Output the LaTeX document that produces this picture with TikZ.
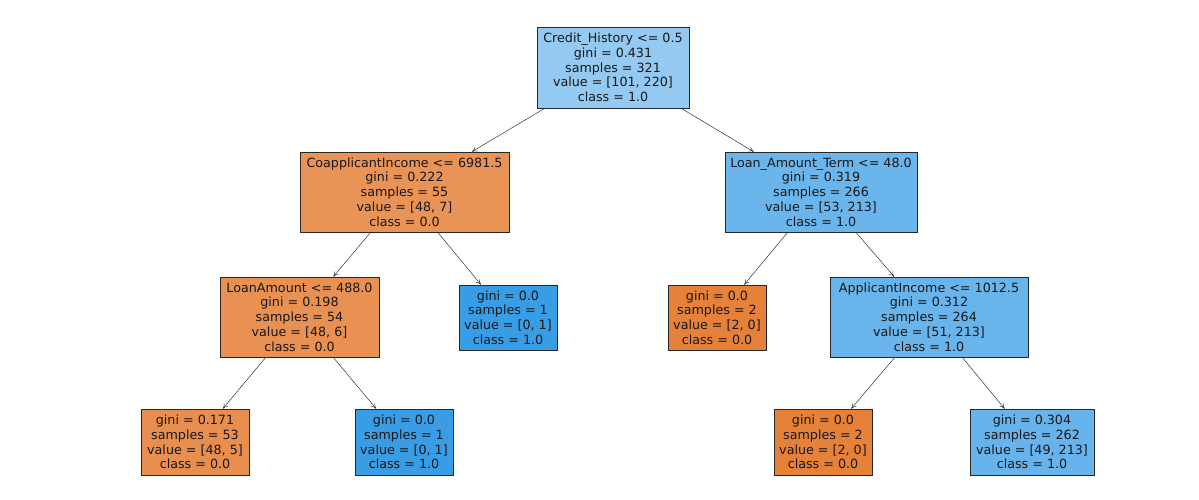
\documentclass[tikz,border=0pt]{standalone}
\usepackage{fontspec}
\setmainfont{DejaVu Sans}
\usetikzlibrary{arrows.meta}
\definecolor{rootc}{RGB}{148,202,241}
\definecolor{o1}{RGB}{233,147,86}
\definecolor{b1}{RGB}{106,181,235}
\definecolor{o2}{RGB}{232,145,82}
\definecolor{opure}{RGB}{229,129,57}
\definecolor{bpure}{RGB}{57,157,229}
\definecolor{b2}{RGB}{104,180,235}
\definecolor{o3}{RGB}{232,142,78}
\definecolor{b3}{RGB}{103,179,235}
\definecolor{edgec}{RGB}{40,40,40}
\tikzset{
  treenode/.style={draw=edgec, line width=0.7pt, inner sep=0pt, align=center,
    font=\fontsize{12.7pt}{14.75pt}\selectfont, text=black!90},
  split/.style={treenode, minimum height=80pt},
  leaf/.style={treenode, minimum height=66pt},
  edge/.style={draw=black!80, line width=0.5pt, -{To[length=5pt,width=5pt]}}
}
\begin{document}
\begin{tikzpicture}[x=1pt,y=-1pt]
\useasboundingbox[fill=white] (0,0) rectangle (1199,500);
\node[split, fill=rootc, minimum width=152pt, minimum height=81pt] (root) at (613,67.5)
  {Credit\_History <= 0.5\\gini = 0.431\\samples = 321\\value = [101, 220]\\class = 1.0};
\node[split, fill=o1, minimum width=209pt] (coap) at (404.5,192)
  {CoapplicantIncome <= 6981.5\\gini = 0.222\\samples = 55\\value = [48, 7]\\class = 0.0};
\node[split, fill=b1, minimum width=192pt] (lat) at (821,192)
  {Loan\_Amount\_Term <= 48.0\\gini = 0.319\\samples = 266\\value = [53, 213]\\class = 1.0};
\node[split, fill=o2, minimum width=159pt] (loan) at (299.5,317)
  {LoanAmount <= 488.0\\gini = 0.198\\samples = 54\\value = [48, 6]\\class = 0.0};
\node[leaf, fill=bpure, minimum width=98pt, minimum height=65pt] (l1) at (508,317.5)
  {gini = 0.0\\samples = 1\\value = [0, 1]\\class = 1.0};
\node[leaf, fill=opure, minimum width=98pt, minimum height=65pt] (r1) at (717,317.5)
  {gini = 0.0\\samples = 2\\value = [2, 0]\\class = 0.0};
\node[split, fill=b2, minimum width=198pt] (app) at (929,317)
  {ApplicantIncome <= 1012.5\\gini = 0.312\\samples = 264\\value = [51, 213]\\class = 1.0};
\node[leaf, fill=o3, minimum width=108pt] (ll1) at (195,442)
  {gini = 0.171\\samples = 53\\value = [48, 5]\\class = 0.0};
\node[leaf, fill=bpure, minimum width=98pt] (ll2) at (404,442)
  {gini = 0.0\\samples = 1\\value = [0, 1]\\class = 1.0};
\node[leaf, fill=opure, minimum width=98pt] (rr1) at (823,442)
  {gini = 0.0\\samples = 2\\value = [2, 0]\\class = 0.0};
\node[leaf, fill=b3, minimum width=124pt] (rr2) at (1032,442)
  {gini = 0.304\\samples = 262\\value = [49, 213]\\class = 1.0};
\draw[edge] (root) -- (coap);
\draw[edge] (root) -- (lat);
\draw[edge] (coap) -- (loan);
\draw[edge] (coap) -- (l1);
\draw[edge] (lat) -- (r1);
\draw[edge] (lat) -- (app);
\draw[edge] (loan) -- (ll1);
\draw[edge] (loan) -- (ll2);
\draw[edge] (app) -- (rr1);
\draw[edge] (app) -- (rr2);
\end{tikzpicture}
\end{document}
